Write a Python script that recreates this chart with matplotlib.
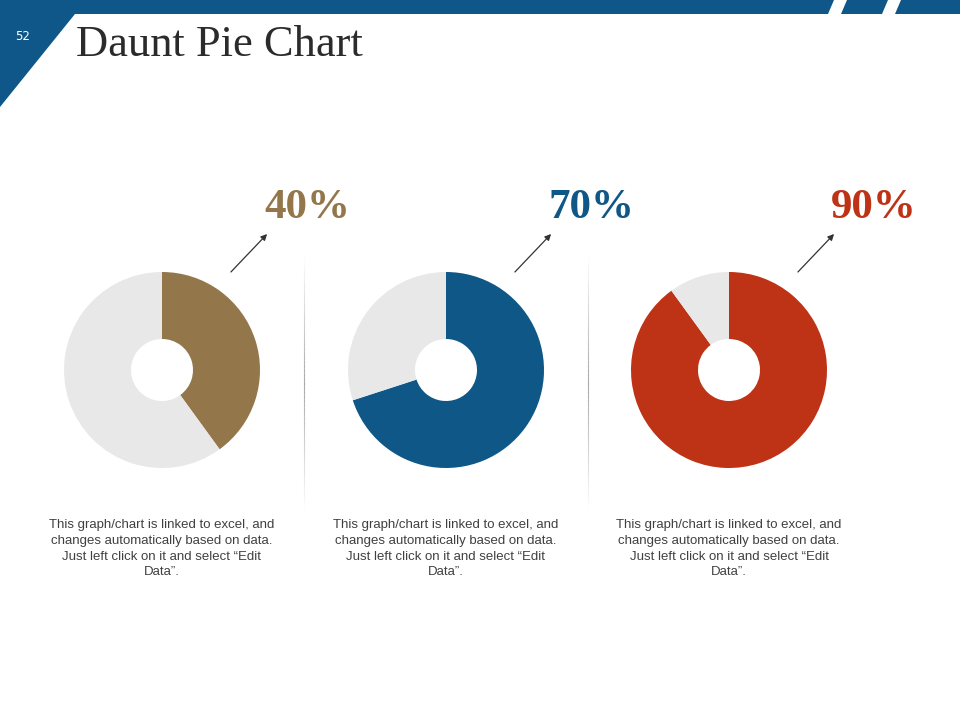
import matplotlib
matplotlib.use("Agg")
import matplotlib.pyplot as plt
import numpy as np
from matplotlib.patches import Polygon
from matplotlib.collections import LineCollection

# data
values = [40, 70, 90]
labels = ["40%", "70%", "90%"]
colors = ["#94764B", "#0E5786", "#BE3216"]
rest_color = "#E8E8E8"
note = ("This graph/chart is linked to excel, and\nchanges automatically based on data.\n"
        "Just left click on it and select \u201cEdit\nData\u201d.")
title = "Daunt Pie Chart"
page_num = "52"

centers_x = [162, 446, 729]
center_y = 370
radius = 98
hole = 31
dark_blue = "#0E5788"

fig = plt.figure(figsize=(9.6, 7.2), dpi=100)
bg = fig.add_axes([0, 0, 1, 1])
bg.set_xlim(0, 960)
bg.set_ylim(720, 0)
bg.axis("off")

# top banner
bg.add_patch(Polygon([(0, 0), (834, 0), (828, 14), (0, 14)], color=dark_blue, lw=0))
bg.add_patch(Polygon([(847, 0), (888, 0), (882, 14), (841, 14)], color=dark_blue, lw=0))
bg.add_patch(Polygon([(901, 0), (960, 0), (960, 14), (895, 14)], color=dark_blue, lw=0))
bg.add_patch(Polygon([(0, 0), (75, 0), (75, 14), (0, 107)], color=dark_blue, lw=0))
bg.text(23, 36, page_num, color="white", fontsize=8.5, ha="center", va="center",
        family="DejaVu Sans")
bg.text(76, 45, title, color="#2B2B2B", fontsize=32, ha="left", va="center",
        family="Liberation Serif")

# faded vertical dividers
for x in [304, 588]:
    ys = np.linspace(255, 512, 60)
    segs = [[(x, ys[i]), (x, ys[i + 1])] for i in range(len(ys) - 1)]
    mid = (ys[:-1] + ys[1:]) / 2
    a = 1 - np.abs(mid - 383) / 128
    lc = LineCollection(segs, colors=[(0.5, 0.5, 0.5, max(0, v) * 0.7) for v in a], linewidths=0.8)
    bg.add_collection(lc)

for i, v in enumerate(values):
    cx = centers_x[i]
    ax = fig.add_axes([(cx - radius) / 960, 1 - (center_y + radius) / 720,
                       2 * radius / 960, 2 * radius / 720])
    ax.pie([v, 100 - v], colors=[colors[i], rest_color], startangle=90, counterclock=False,
           radius=1, wedgeprops=dict(width=1 - hole / radius, linewidth=0))
    ax.set_xlim(-1, 1)
    ax.set_ylim(-1, 1)
    ax.set_aspect("equal")
    ax.axis("off")

    bg.text(cx + 145, 208, labels[i], color=colors[i], fontsize=31, fontweight="bold",
            ha="center", va="center", family="Liberation Serif")
    bg.annotate("", xy=(cx + 107, 232), xytext=(cx + 67, 274),
                arrowprops=dict(arrowstyle="-|>", color="#333333", lw=0.9, mutation_scale=9))
    bg.text(cx, 519, note, color="#404040", fontsize=9.5, ha="center", va="top",
            family="Liberation Sans", linespacing=1.42)

fig.savefig("out.png", dpi=100, facecolor="white")
